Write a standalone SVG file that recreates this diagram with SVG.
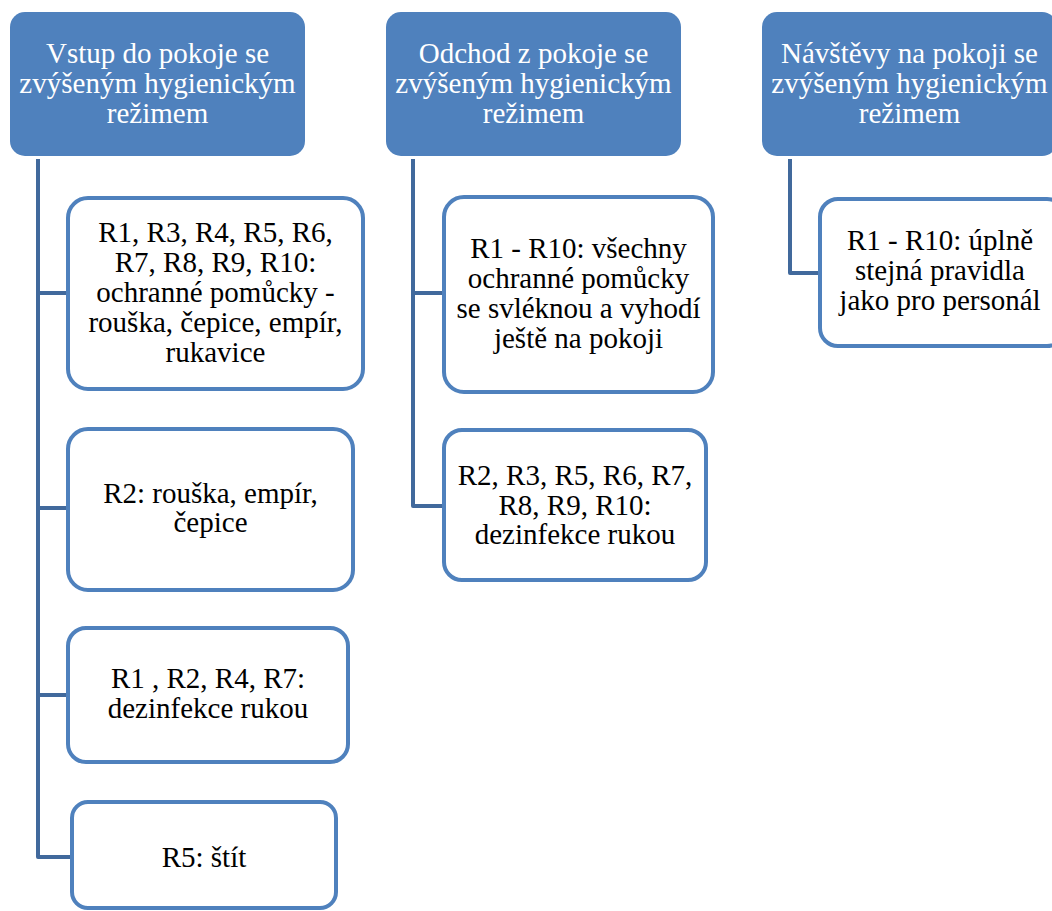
<svg xmlns="http://www.w3.org/2000/svg" width="1052" height="911" viewBox="0 0 1052 911">
<style>
.hdr{fill:#4f81bd;stroke:none}
.box{fill:#ffffff;stroke:#4f81bd;stroke-width:4}
.con{fill:none;stroke:#41699c;stroke-width:4;stroke-linejoin:round}
</style>
<rect width="1052" height="911" fill="#ffffff"/>
<g id="connectors">
<path class="con" d="M38 159 V857 H70 M38 293 H68 M38 508 H68 M38 695 H68"/>
<path class="con" d="M413 159 V506 H444 M413 293 H444"/>
<path class="con" d="M790 159 V273 H820"/>
</g>
<g id="h1">
<rect class="hdr" x="10" y="12" width="295" height="144" rx="15"/>
<text font-family="Liberation Serif" font-size="29" fill="#ffffff" text-anchor="middle"><tspan x="157.5" y="63">Vstup do pokoje se</tspan><tspan x="157.5" y="93">zvýšeným hygienickým</tspan><tspan x="157.5" y="123">režimem</tspan></text>
</g>
<g id="h2">
<rect class="hdr" x="386" y="12" width="295" height="144" rx="15"/>
<text font-family="Liberation Serif" font-size="29" fill="#ffffff" text-anchor="middle"><tspan x="533.5" y="63">Odchod z pokoje se</tspan><tspan x="533.5" y="93">zvýšeným hygienickým</tspan><tspan x="533.5" y="123">režimem</tspan></text>
</g>
<g id="h3">
<rect class="hdr" x="762" y="12" width="295" height="144" rx="15"/>
<text font-family="Liberation Serif" font-size="29" fill="#ffffff" text-anchor="middle"><tspan x="909.5" y="63">Návštěvy na pokoji se</tspan><tspan x="909.5" y="93">zvýšeným hygienickým</tspan><tspan x="909.5" y="123">režimem</tspan></text>
</g>
<g id="c1a">
<rect class="box" x="68" y="198" width="295" height="191" rx="20"/>
<text font-family="Liberation Serif" font-size="29" fill="#000000" text-anchor="middle"><tspan x="215.5" y="242">R1, R3, R4, R5, R6,</tspan><tspan x="215.5" y="272">R7, R8, R9, R10:</tspan><tspan x="215.5" y="302">ochranné pomůcky -</tspan><tspan x="215.5" y="332">rouška, čepice, empír,</tspan><tspan x="215.5" y="362">rukavice</tspan></text>
</g>
<g id="c1b">
<rect class="box" x="68" y="429" width="285" height="161" rx="20"/>
<text font-family="Liberation Serif" font-size="29" fill="#000000" text-anchor="middle"><tspan x="210.5" y="503">R2: rouška, empír,</tspan><tspan x="210.5" y="532">čepice</tspan></text>
</g>
<g id="c1c">
<rect class="box" x="68" y="628" width="280" height="134" rx="18"/>
<text font-family="Liberation Serif" font-size="29" fill="#000000" text-anchor="middle"><tspan x="208" y="688">R1 , R2, R4, R7:</tspan><tspan x="208" y="718">dezinfekce rukou</tspan></text>
</g>
<g id="c1d">
<rect class="box" x="72" y="802" width="264" height="106" rx="16"/>
<text font-family="Liberation Serif" font-size="29" fill="#000000" text-anchor="middle" x="204" y="867">R5: štít</text>
</g>
<g id="c2a">
<rect class="box" x="444" y="197" width="269" height="195" rx="20"/>
<text font-family="Liberation Serif" font-size="29" fill="#000000" text-anchor="middle"><tspan x="578.5" y="258">R1 - R10: všechny</tspan><tspan x="578.5" y="288">ochranné pomůcky</tspan><tspan x="578.5" y="318">se svléknou a vyhodí</tspan><tspan x="578.5" y="348">ještě na pokoji</tspan></text>
</g>
<g id="c2b">
<rect class="box" x="444" y="430" width="262" height="150" rx="18"/>
<text font-family="Liberation Serif" font-size="29" fill="#000000" text-anchor="middle"><tspan x="575" y="485">R2, R3, R5, R6, R7,</tspan><tspan x="575" y="515">R8, R9, R10:</tspan><tspan x="575" y="544">dezinfekce rukou</tspan></text>
</g>
<g id="c3a">
<rect class="box" x="820" y="199" width="245" height="147" rx="18"/>
<text font-family="Liberation Serif" font-size="29" fill="#000000" text-anchor="middle"><tspan x="940" y="250">R1 - R10: úplně</tspan><tspan x="940" y="280">stejná pravidla</tspan><tspan x="940" y="310">jako pro personál</tspan></text>
</g>
</svg>
